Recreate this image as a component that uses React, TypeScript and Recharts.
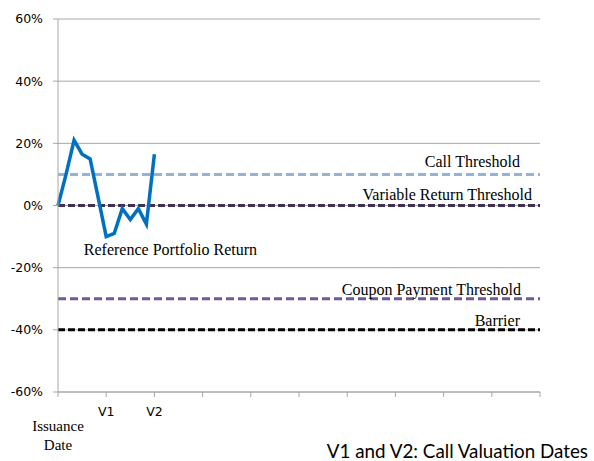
import { LineChart, Line, XAxis, YAxis, CartesianGrid, ReferenceLine, ReferenceDot } from "recharts";

// observation index (6 per valuation period) and reference portfolio return in %
const periods = [0, 1, 2, 3, 4, 5, 6, 7, 8, 9, 10, 11, 12];
const portfolioReturn = [0, 10, 21, 16.5, 15, 2.5, -10, -9, -1, -4.5, -1, -6, 16.5];

const xTicks = [0, 6, 12, 18, 24, 30, 36, 42, 48, 54, 60];
const xTickLabels = ["Issuance Date", "V1", "V2", "", "", "", "", "", "", "", ""];
const yTicks = [-60, -40, -20, 0, 20, 40, 60];

const thresholdNames = ["Call Threshold", "Variable Return Threshold", "Coupon Payment Threshold", "Barrier"];
const thresholdValues = [10, 0, -30, -40];

const thresholdStyles = [
  { color: "#95b3d7", dash: "8 4", inset: 20, lift: 7 },
  { color: "#3f3151", dash: "7 3", inset: 8, lift: 6 },
  { color: "#70589b", dash: "8 4", inset: 19, lift: 4 },
  { color: "#000000", dash: "7 3", inset: 20, lift: 4 },
];

const data = periods.map((t, i) => ({ t, ret: portfolioReturn[i] }));

const SERIF = "'Liberation Serif', 'Times New Roman', serif";
const SANS = "'DejaVu Sans', Verdana, sans-serif";

const XTick = (props: any) => {
  const { x, y, payload } = props;
  const label = xTickLabels[xTicks.indexOf(payload.value)];
  if (!label) return null;
  if (label === "Issuance Date") {
    return (
      <g>
        <text x={x} y={y + 32} textAnchor="middle" fontFamily={SERIF} fontSize={15} fill="#000">Issuance</text>
        <text x={x} y={y + 51} textAnchor="middle" fontFamily={SERIF} fontSize={15} fill="#000">Date</text>
      </g>
    );
  }
  return (
    <text x={x} y={y + 17} textAnchor="middle" fontFamily={SANS} fontSize={12.5} fill="#000">{label}</text>
  );
};

const thresholdLabel = (name: string, inset: number, lift: number) => (props: any) => {
  const vb = props.viewBox;
  return (
    <text x={vb.x + vb.width - inset} y={vb.y - lift} textAnchor="end" fontFamily={SERIF} fontSize={16} fill="#000">
      {name}
    </text>
  );
};

export default function App() {
  return (
    <div style={{ position: "absolute", left: 0, top: 0, width: 594, height: 461, background: "#fff" }}>
      <LineChart width={594} height={461} data={data} margin={{ top: 19, right: 54, bottom: 0, left: 0 }}>
        <CartesianGrid vertical={false} stroke="#a6a6a6" strokeWidth={1} />
        <XAxis
          dataKey="t"
          type="number"
          domain={[0, 60]}
          ticks={xTicks}
          interval={0}
          height={69}
          tickSize={5}
          stroke="#a6a6a6"
          tick={<XTick />}
        />
        <YAxis
          type="number"
          domain={[-60, 60]}
          ticks={yTicks}
          interval={0}
          width={58}
          tickSize={5}
          tickMargin={10}
          stroke="#a6a6a6"
          tickFormatter={(v: number) => `${v}%`}
          tick={{ fill: "#000", fontFamily: SANS, fontSize: 12.5 }}
        />
        {thresholdNames.map((name, i) => (
          <ReferenceLine
            key={name}
            y={thresholdValues[i]}
            stroke={thresholdStyles[i].color}
            strokeWidth={3}
            strokeDasharray={thresholdStyles[i].dash}
            label={thresholdLabel(name, thresholdStyles[i].inset, thresholdStyles[i].lift)}
          />
        ))}
        <Line
          type="linear"
          dataKey="ret"
          stroke="#0070c0"
          strokeWidth={3.5}
          dot={false}
          isAnimationActive={false}
        />
        <ReferenceDot
          x={14}
          y={-14}
          r={0}
          stroke="none"
          fill="none"
          label={{ value: "Reference Portfolio Return", position: "center", fontFamily: SERIF, fontSize: 16, fill: "#000" }}
        />
      </LineChart>
      <div
        style={{
          position: "absolute",
          right: 6,
          top: 441,
          fontFamily: "Lato, sans-serif",
          fontSize: 18.8,
          lineHeight: "19px",
          color: "#000",
          whiteSpace: "nowrap",
        }}
      >
        V1 and V2: Call Valuation Dates
      </div>
    </div>
  );
}
